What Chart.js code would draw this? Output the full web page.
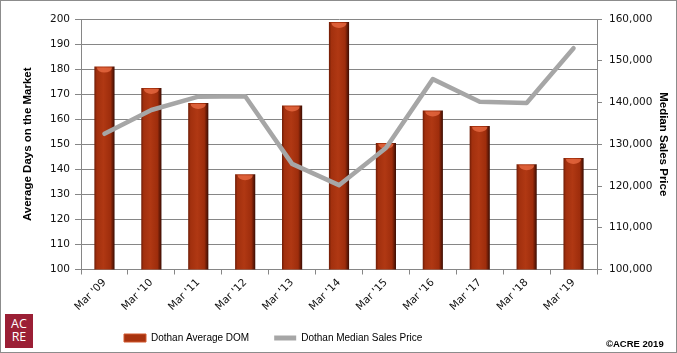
<!DOCTYPE html>
<html>
<head>
<meta charset="utf-8">
<script src="https://cdn.jsdelivr.net/npm/chart.js@4.4.1/dist/chart.umd.min.js"></script>
<style>
  html, body { margin: 0; padding: 0; background: #fff; }
  #wrap { position: relative; width: 677px; height: 353px; }
  #frame { position: absolute; left: 0; top: 0; width: 677px; height: 353px; box-sizing: border-box; border: 1px solid #8c8c8c; pointer-events: none; }
  #logo { position: absolute; left: 5px; top: 314px; width: 28px; height: 34px; background: #9b1f35; color: #fff;
          font: 12.5px/13px "Open Sans", sans-serif; text-align: center; padding-top: 3px; box-sizing: border-box; }
  #copy { position: absolute; left: 606px; top: 338px; font: bold 9.5px "Liberation Sans", Arial, sans-serif; color: #000; }
</style>
</head>
<body>
<div id="wrap">
  <canvas id="chart" width="677" height="353"></canvas>
  <div id="logo">AC<br>RE</div>
  <div id="copy">©ACRE 2019</div>
  <div id="frame"></div>
</div>
<script>
const categories = ["Mar '09", "Mar '10", "Mar '11", "Mar '12", "Mar '13", "Mar '14", "Mar '15", "Mar '16", "Mar '17", "Mar '18", "Mar '19"];
const avgDom = [181, 172.5, 166.5, 138, 165.5, 198.8, 150.5, 163.5, 157.3, 142, 144.5];
const medianPrice = [132500, 138200, 141400, 141500, 125300, 120200, 129100, 145600, 140200, 139900, 153000];
const domTicks = [100, 110, 120, 130, 140, 150, 160, 170, 180, 190, 200];
const priceTicks = [100000, 110000, 120000, 130000, 140000, 150000, 160000];

const tickFont = { family: 'DejaVu Sans', size: 10.5 };
const titleFont = { family: 'Liberation Sans', size: 11.5, weight: 'bold' };
const gridGray = '#868686';
const barShare = 0.43;

// horizontal "cylinder" shading for each bar
function barFill(ctx) {
  const chart = ctx.chart;
  const xs = chart.scales.x;
  if (ctx.type !== 'data' || !xs || !xs.width) return '#a8330f';
  const cx = xs.getPixelForValue(ctx.dataIndex);
  const half = xs.width / categories.length * barShare / 2;
  const g = chart.ctx.createLinearGradient(cx - half, 0, cx + half, 0);
  g.addColorStop(0, '#6e1c06');
  g.addColorStop(0.12, '#a2300e');
  g.addColorStop(0.45, '#b03813');
  g.addColorStop(0.8, '#9e2d0c');
  g.addColorStop(1, '#3a0c02');
  return g;
}

// light cap on top of each bar
const barCaps = {
  id: 'barCaps',
  afterDatasetDraw(chart, args) {
    if (args.index !== 0) return;
    const c = chart.ctx;
    args.meta.data.forEach(bar => {
      const w = bar.width / 2 * 0.75;
      c.save();
      c.beginPath();
      c.ellipse(bar.x, bar.y + 1, w, 5, 0, 0, Math.PI);
      c.fillStyle = 'rgba(236,110,70,0.75)';
      c.fill();
      c.restore();
    });
  }
};

const moveLegend = {
  id: 'moveLegend',
  beforeLayout(chart) {
    const lg = chart.legend;
    if (lg && !lg._fixedFit) {
      const fit = lg.fit.bind(lg);
      lg.fit = function () { fit(); this.height = 32; };
      lg._fixedFit = true;
    }
  },
  afterLayout(chart) {
    const lg = chart.legend;
    const pad = lg.options.labels.padding;
    lg.left = 124 - pad;
    lg.right = lg.left + 600;
    lg.top = 339 - pad - 6;
    lg.bottom = 353;
  }
};

new Chart(document.getElementById('chart'), {
  type: 'bar',
  data: {
    labels: categories,
    datasets: [{
      label: 'Dothan Average DOM',
      data: avgDom,
      yAxisID: 'y',
      order: 1,
      backgroundColor: barFill,
      borderWidth: 0,
      categoryPercentage: 1,
      barPercentage: barShare
    }, {
      type: 'line',
      label: 'Dothan Median Sales Price',
      data: medianPrice,
      yAxisID: 'y1',
      order: 0,
      borderColor: '#a6a6a6',
      backgroundColor: '#a6a6a6',
      borderWidth: 4.5,
      borderCapStyle: 'round',
      borderJoinStyle: 'round',
      pointRadius: 0,
      tension: 0
    }]
  },
  options: {
    responsive: false,
    animation: false,
    layout: { padding: { top: 19, right: 0, bottom: 0, left: 0 } },
    plugins: {
      tooltip: { enabled: false },
      legend: {
        position: 'bottom',
        align: 'start',
        labels: {
          usePointStyle: true,
          pointStyleWidth: 22,
          boxHeight: 8,
          padding: 25,
          color: '#000',
          font: { family: 'Liberation Sans', size: 10 },
          generateLabels(chart) {
            const items = Chart.defaults.plugins.legend.labels.generateLabels(chart);
            items.forEach(it => {
              if (it.datasetIndex === 0) {
                it.pointStyle = 'rect';
                it.fillStyle = '#a8330f';
                it.strokeStyle = '#d2582e';
                it.lineWidth = 1;
              } else {
                it.pointStyle = 'line';
                it.strokeStyle = '#a6a6a6';
                it.lineWidth = 5;
              }
            });
            return items.sort((a, b) => a.datasetIndex - b.datasetIndex);
          }
        }
      }
    },
    scales: {
      x: {
        offset: true,
        grid: { offset: true, drawOnChartArea: false, color: gridGray, tickLength: 5 },
        border: { color: gridGray },
        ticks: { minRotation: 45, maxRotation: 45, padding: 2, color: '#111', font: tickFont },
        afterFit(s) { s.height = 353 - 32 - 269.5; }
      },
      y: {
        position: 'left',
        min: 100,
        max: 200,
        afterBuildTicks(s) { s.ticks = domTicks.map(v => ({ value: v })); },
        grid: { color: gridGray, tickLength: 6 },
        border: { color: gridGray },
        ticks: { padding: 5, color: '#111', font: tickFont },
        title: { display: true, text: 'Average Days on the Market', color: '#000', font: titleFont, padding: { top: 21, bottom: 0 } },
        afterFit(s) { s.width = 81; }
      },
      y1: {
        position: 'right',
        min: 100000,
        max: 160000,
        afterBuildTicks(s) { s.ticks = priceTicks.map(v => ({ value: v })); },
        grid: { drawOnChartArea: false, color: gridGray, tickLength: 5 },
        border: { color: gridGray },
        ticks: { padding: 7, color: '#111', font: tickFont, callback: v => v.toLocaleString('en-US') },
        title: { display: true, text: 'Median Sales Price', color: '#000', font: titleFont, padding: { top: 7, bottom: 0 } },
        afterFit(s) { s.width = 80; }
      }
    }
  },
  plugins: [barCaps, moveLegend]
});
</script>
</body>
</html>
